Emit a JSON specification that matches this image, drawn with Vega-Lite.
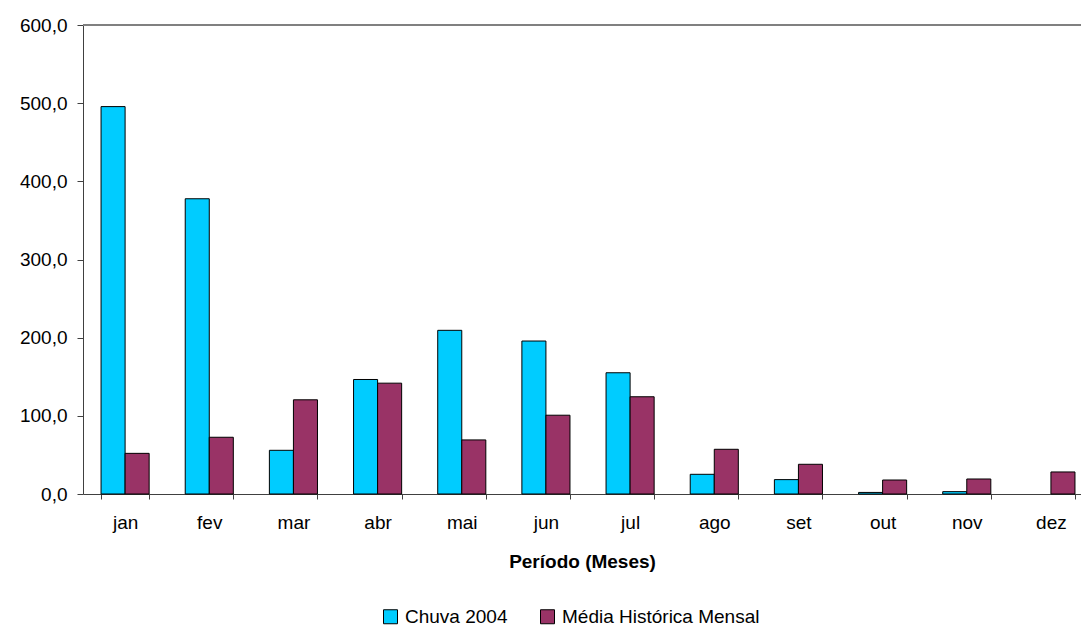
{
  "$schema": "https://vega.github.io/schema/vega-lite/v6.json",
  "autosize": {"type": "none"},
  "width": 998,
  "height": 469,
  "padding": {"left": 83, "top": 25, "right": 0, "bottom": 132},
  "background": "white",
  "config": {
    "locale": {"number": {"decimal": ",", "thousands": ".", "grouping": [3], "currency": ["R$", ""]}},
    "view": {"stroke": null},
    "font": "Liberation Sans"
  },
  "data": {
    "values": [
      {"mes": "jan", "serie": "Chuva 2004", "valor": 495.6},
      {"mes": "jan", "serie": "Média Histórica Mensal", "valor": 52.0},
      {"mes": "fev", "serie": "Chuva 2004", "valor": 377.7},
      {"mes": "fev", "serie": "Média Histórica Mensal", "valor": 72.6},
      {"mes": "mar", "serie": "Chuva 2004", "valor": 55.9},
      {"mes": "mar", "serie": "Média Histórica Mensal", "valor": 120.5},
      {"mes": "abr", "serie": "Chuva 2004", "valor": 146.5},
      {"mes": "abr", "serie": "Média Histórica Mensal", "valor": 141.8},
      {"mes": "mai", "serie": "Chuva 2004", "valor": 209.4},
      {"mes": "mai", "serie": "Média Histórica Mensal", "valor": 69.2},
      {"mes": "jun", "serie": "Chuva 2004", "valor": 195.7},
      {"mes": "jun", "serie": "Média Histórica Mensal", "valor": 100.8},
      {"mes": "jul", "serie": "Chuva 2004", "valor": 155.1},
      {"mes": "jul", "serie": "Média Histórica Mensal", "valor": 124.4},
      {"mes": "ago", "serie": "Chuva 2004", "valor": 25.2},
      {"mes": "ago", "serie": "Média Histórica Mensal", "valor": 57.2},
      {"mes": "set", "serie": "Chuva 2004", "valor": 18.4},
      {"mes": "set", "serie": "Média Histórica Mensal", "valor": 38.0},
      {"mes": "out", "serie": "Chuva 2004", "valor": 2.0},
      {"mes": "out", "serie": "Média Histórica Mensal", "valor": 17.9},
      {"mes": "nov", "serie": "Chuva 2004", "valor": 3.0},
      {"mes": "nov", "serie": "Média Histórica Mensal", "valor": 19.2},
      {"mes": "dez", "serie": "Média Histórica Mensal", "valor": 28.2}
    ]
  },
  "layer": [
    {
      "mark": {"type": "bar", "stroke": "#000000", "strokeWidth": 1},
      "encoding": {
        "x": {
          "field": "mes",
          "type": "nominal",
          "sort": ["jan", "fev", "mar", "abr", "mai", "jun", "jul", "ago", "set", "out", "nov", "dez"],
          "scale": {"paddingInner": 0.4286, "paddingOuter": 0.143, "align": 0.75},
          "axis": {
            "title": "Período (Meses)",
            "titleFont": "Liberation Sans",
            "titleFontSize": 19,
            "titleFontWeight": "bold",
            "titleColor": "#000000",
            "titlePadding": 20,
            "labelAngle": 0,
            "labelFont": "Liberation Sans",
            "labelFontSize": 19,
            "labelColor": "#000000",
            "labelPadding": 14,
            "tickBand": "extent",
            "tickSize": 5,
            "tickColor": "#404040",
            "domainColor": "#404040",
            "grid": false
          }
        },
        "xOffset": {
          "field": "serie",
          "type": "nominal",
          "sort": ["Chuva 2004", "Média Histórica Mensal"],
          "scale": {"domain": ["Chuva 2004", "Média Histórica Mensal"], "paddingInner": 0, "paddingOuter": 0}
        },
        "y": {
          "field": "valor",
          "type": "quantitative",
          "scale": {"domain": [0, 600], "nice": false},
          "axis": {
            "title": null,
            "values": [0, 100, 200, 300, 400, 500, 600],
            "format": ".1f",
            "labelFont": "Liberation Sans",
            "labelFontSize": 19,
            "labelColor": "#000000",
            "labelPadding": 10,
            "tickSize": 6,
            "tickColor": "#404040",
            "domainColor": "#404040",
            "grid": false
          }
        },
        "color": {
          "field": "serie",
          "type": "nominal",
          "sort": ["Chuva 2004", "Média Histórica Mensal"],
          "scale": {"domain": ["Chuva 2004", "Média Histórica Mensal"], "range": ["#00CCFF", "#993366"]},
          "legend": {
            "title": null,
            "orient": "none",
            "direction": "horizontal",
            "legendX": 298,
            "legendY": 582,
            "symbolType": "square",
            "symbolSize": 196,
            "symbolStrokeColor": "#000000",
            "symbolStrokeWidth": 1,
            "labelFont": "Liberation Sans",
            "labelFontSize": 19,
            "labelColor": "#000000",
            "labelOffset": 5,
            "labelLimit": 0,
            "columnPadding": 30
          }
        }
      }
    },
    {
      "mark": {"type": "rule", "color": "#808080", "strokeWidth": 2},
      "encoding": {"y": {"datum": 600}}
    }
  ]
}
